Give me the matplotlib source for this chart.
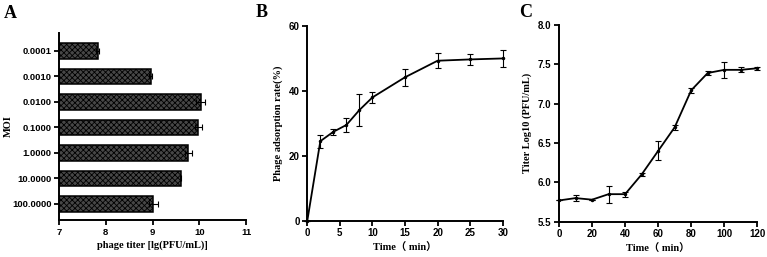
import matplotlib
matplotlib.use("Agg")
import matplotlib.pyplot as plt
import numpy as np

plt.rcParams['hatch.color'] = '#b0b0b0'
plt.rcParams['hatch.linewidth'] = 0.6

# Panel A data
moi_labels = ['0.0001', '0.0010', '0.0100', '0.1000', '1.0000', '10.0000', '100.0000']
titer = [7.83, 8.96, 10.03, 9.98, 9.77, 9.60, 9.02]
titer_err = [0.03, 0.03, 0.10, 0.08, 0.07, 0.01, 0.10]

# Panel B data
ads_time = [0, 2, 4, 6, 8, 10, 15, 20, 25, 30]
ads_rate = [0, 24.5, 27.4, 29.5, 34.1, 38.0, 44.2, 49.3, 49.7, 50.0]
ads_err = [0, 2.0, 1.0, 2.2, 4.9, 1.8, 2.7, 2.3, 1.8, 2.5]

# Panel C data
grow_time = [0, 10, 20, 30, 40, 50, 60, 70, 80, 90, 100, 110, 120]
grow_titer = [5.77, 5.80, 5.78, 5.85, 5.85, 6.10, 6.40, 6.70, 7.17, 7.39, 7.43, 7.43, 7.45]
grow_err = [0.0, 0.04, 0.0, 0.11, 0.03, 0.02, 0.12, 0.03, 0.03, 0.02, 0.10, 0.03, 0.02]

W, H = 767, 257
fig = plt.figure(figsize=(W/100, H/100), dpi=100)

serif = ['Liberation Serif', 'DejaVu Serif']
sans = ['Liberation Sans', 'DejaVu Sans']
lab_font = dict(family=serif, weight='bold', size=7.5)
time_font = dict(family=['Liberation Serif', 'Noto Sans CJK SC'], weight='bold', size=7.5)

def style(ax, fs=7):
    for s in ['top', 'right']:
        ax.spines[s].set_visible(False)
    for s in ['left', 'bottom']:
        ax.spines[s].set_linewidth(1.4)
    ax.tick_params(width=1.3, length=3.5, direction='out', pad=2)
    for t in ax.get_xticklabels() + ax.get_yticklabels():
        t.set_fontfamily(sans)
        t.set_fontweight('bold')
        t.set_fontsize(fs)

def unclip(cont):
    for art in cont.get_children():
        art.set_clip_on(False)

def box(l, r, t, b):
    return [l / W, 1 - b / H, (r - l) / W, (b - t) / H]

# Panel A
axA = fig.add_axes(box(59, 246, 33, 220))
y = np.arange(len(moi_labels))
axA.barh(y, [v - 7 for v in titer], left=7, height=0.6, color='#474747',
         edgecolor='black', linewidth=1.1, hatch='xxxxxx',
         xerr=titer_err, error_kw=dict(ecolor='black', elinewidth=0.8, capsize=2, capthick=0.8))
axA.set_xlim(7, 11)
axA.set_ylim(6.63, -0.7)
axA.set_yticks(y)
axA.set_yticklabels(moi_labels)
axA.set_xticks([7, 8, 9, 10, 11])
axA.set_xlabel('phage titer [lg(PFU/mL)]', **lab_font, labelpad=3)
axA.set_ylabel('MOI', **lab_font)
axA.yaxis.set_label_coords((13 - 59) / 187, 0.5)
style(axA, fs=6.8)

# Panel B
axB = fig.add_axes(box(307.3, 502.7, 26, 220.7))
eb = axB.errorbar(ads_time, ads_rate, yerr=ads_err, color='black', linewidth=1.3,
                  elinewidth=0.8, capsize=2, capthick=0.8, marker='o', markersize=1.5)
unclip(eb)
axB.set_xlim(0, 30)
axB.set_ylim(0, 60)
axB.set_xticks([0, 5, 10, 15, 20, 25, 30])
axB.set_yticks([0, 20, 40, 60])
axB.set_xlabel('Time（ min）', **time_font, labelpad=3)
axB.set_ylabel('Phage adsorption rate(%)', **lab_font, labelpad=4)
style(axB)

# Panel C
axC = fig.add_axes(box(559, 757.3, 25, 221.7))
ec = axC.errorbar(grow_time, grow_titer, yerr=grow_err, color='black', linewidth=1.3,
                  elinewidth=0.8, capsize=2, capthick=0.8, marker='o', markersize=1.5)
unclip(ec)
axC.set_xlim(0, 120)
axC.set_ylim(5.5, 8.0)
axC.set_xticks([0, 20, 40, 60, 80, 100, 120])
axC.set_yticks([5.5, 6.0, 6.5, 7.0, 7.5, 8.0])
axC.set_yticklabels(['5.5', '6.0', '6.5', '7.0', '7.5', '8.0'])
axC.set_xlabel('Time（ min）', **time_font, labelpad=3)
axC.set_ylabel('Titer Log10 (PFU/mL)', **lab_font, labelpad=4)
style(axC)

# Panel letters
for x, yy, letter in [(4, 5, 'A'), (256, 4, 'B'), (519, 4, 'C')]:
    fig.text(x / W, 1 - yy / H, letter, family=serif, weight='bold', size=13,
             ha='left', va='top')

fig.savefig('out.png', dpi=100)
